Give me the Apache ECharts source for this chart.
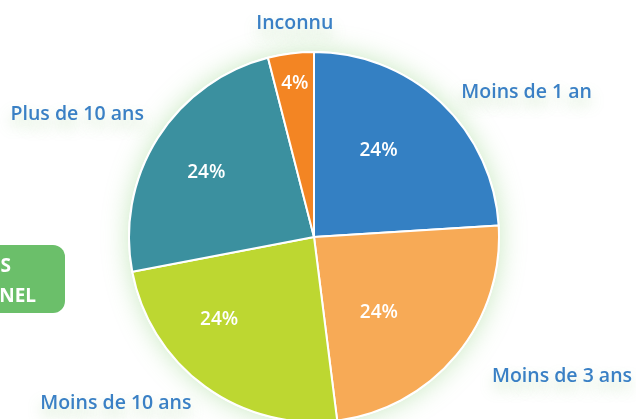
<!DOCTYPE html>
<html lang="fr">
<head>
<meta charset="UTF-8">
<script src="https://cdn.jsdelivr.net/npm/echarts@6/dist/echarts.min.js"></script>
</head>
<body style="margin:0">
<div id="container" style="width:636px;height:419px"></div>
<script>
// anciennete
var categories = ['Moins de 1 an', 'Moins de 3 ans', 'Moins de 10 ans', 'Plus de 10 ans', 'Inconnu'];
var values = [24, 24, 24, 24, 4];
var colors = ['#3480c3', '#f7aa56', '#bdd731', '#3b909f', '#f38523'];
// petits decalages des libelles
var nameNudges = [[-8, 5], [5, 9], [13, 1], [18, -13], [60, -10]];
var pctNudges = [[-18, 1], [-28, -1], [-24, -15], [-6, 0], [-4, -34]];

var myChart = echarts.init(document.getElementById('container'));
var pieData = categories.map(function (name, i) {
    return { name: name, value: values[i], itemStyle: { color: colors[i] } };
});
var fontFamily = '"Open Sans", "Noto Sans", sans-serif';

myChart.setOption({
    backgroundColor: '#ffffff',
    animation: false,
    graphic: [
        {
            type: 'rect',
            shape: { x: -30, y: 245, width: 95, height: 68, r: 12 },
            style: { fill: '#6bbf6a' }
        },
        {
            type: 'text',
            style: { x: 11, y: 267, text: 'S', fill: '#fff', font: 'bold 19px ' + fontFamily, align: 'right', verticalAlign: 'middle' }
        },
        {
            type: 'text',
            style: { x: 36, y: 297, text: 'NEL', fill: '#fff', font: 'bold 19px ' + fontFamily, align: 'right', verticalAlign: 'middle' }
        }
    ],
    series: [
        {
            // halo vert derriere le camembert
            type: 'pie',
            silent: true,
            z: 1,
            center: [314, 237],
            radius: 186,
            data: [{ value: 1, name: '' }],
            itemStyle: {
                color: '#ffffff',
                shadowBlur: 26,
                shadowColor: 'rgba(120, 200, 100, 0.4)'
            },
            label: { show: false },
            labelLine: { show: false }
        },
        {
            type: 'pie',
            z: 2,
            center: [314, 237],
            radius: 185,
            startAngle: 90,
            data: pieData,
            itemStyle: {
                borderColor: '#ffffff',
                borderWidth: 2
            },
            labelLine: { show: false, length: 20, length2: 10 },
            label: {
                position: 'outside',
                formatter: '{b}',
                overflow: 'none',
                color: '#3a80c5',
                fontSize: 19.5,
                fontWeight: 600,
                fontFamily: fontFamily,
                textShadowColor: 'rgba(120, 190, 100, 0.35)',
                textShadowBlur: 14,
                textShadowOffsetY: 8
            },
            labelLayout: function (params) {
                var n = nameNudges[params.dataIndex];
                return { dx: n[0], dy: n[1] };
            }
        },
        {
            type: 'pie',
            silent: true,
            z: 3,
            center: [314, 237],
            radius: [0, 235],
            startAngle: 90,
            data: pieData.map(function (d) {
                return { name: d.name, value: d.value, itemStyle: { color: 'rgba(0,0,0,0)' } };
            }),
            label: {
                position: 'inside',
                formatter: '{c}%',
                color: '#ffffff',
                fontSize: 19,
                fontWeight: 600,
                fontFamily: fontFamily
            },
            labelLine: { show: false },
            labelLayout: function (params) {
                var n = pctNudges[params.dataIndex];
                return { dx: n[0], dy: n[1] };
            }
        }
    ]
});
</script>
</body>
</html>
